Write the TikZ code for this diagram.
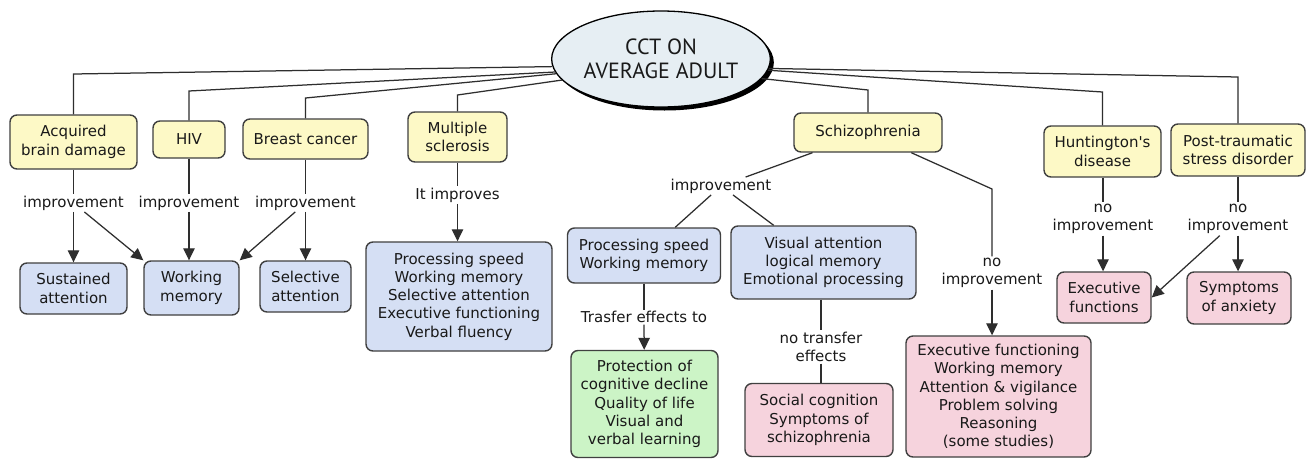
\documentclass[tikz,border=0pt]{standalone}
\usepackage{fontspec}
\usetikzlibrary{arrows.meta,shadows,calc,shapes.geometric}
\newfontfamily\mapsans{DejaVu Sans}
\newfontfamily\titlesans{PT Sans}
\newcommand\mapfont{\mapsans\fontsize{15pt}{18.3pt}\selectfont}
\newcommand\titlefont{\titlesans\fontsize{22pt}{24pt}\selectfont}
\definecolor{edgec}{HTML}{404040}
\definecolor{linec}{HTML}{2E2E2E}
\definecolor{yel}{HTML}{FDF9C6}
\definecolor{blu}{HTML}{D5DFF4}
\definecolor{grn}{HTML}{CCF4C6}
\definecolor{pnk}{HTML}{F6D3DD}
\definecolor{ellc}{HTML}{E6EEF3}
\tikzset{
  box/.style={draw=edgec, line width=1.4pt, rounded corners=7pt, align=center,
    inner sep=0pt, font=\mapfont, text=black!90},
  ybox/.style={box, fill=yel},
  bbox/.style={box, fill=blu},
  gbox/.style={box, fill=grn},
  pbox/.style={box, fill=pnk},
  lab/.style={font=\mapfont, inner sep=1.5pt, align=center, text=black!90},
  link/.style={draw=linec, line width=1.25pt},
  arr/.style={link, -{Triangle[length=12pt,width=11.5pt]}},
}
\begin{document}
\begin{tikzpicture}[x=1pt,y=-1pt]
\fill[white] (0,0) rectangle (1308,461);
\useasboundingbox (0,0) rectangle (1308,461);

% central concept
\node[ellipse, draw=black, line width=1.3pt, fill=ellc, minimum width=206pt,
  minimum height=96pt, inner sep=0pt, align=center, font=\titlefont, text=black!90,
  drop shadow={shadow xshift=3.5pt, shadow yshift=-3.5pt, fill=black, opacity=1}]
  (ell) at (661,59) {CCT ON\\AVERAGE ADULT};

% conditions
\node[ybox, minimum width=127pt, minimum height=54pt] (abd) at (73.5,142) {Acquired\\brain damage};
\node[ybox, minimum width=72pt, minimum height=37pt] (hiv) at (189,139.5) {HIV};
\node[ybox, minimum width=125pt, minimum height=40pt] (bc) at (305.5,139) {Breast cancer};
\node[ybox, minimum width=99pt, minimum height=50pt] (ms) at (457.5,137) {Multiple\\sclerosis};
\node[ybox, minimum width=148pt, minimum height=39pt] (sch) at (868,132.5) {Schizophrenia};
\node[ybox, minimum width=117pt, minimum height=51pt] (hd) at (1102.5,151.5) {Huntington's\\disease};
\node[ybox, minimum width=134pt, minimum height=52pt] (ptsd) at (1238,150) {Post-traumatic\\stress disorder};

% outcomes
\node[bbox, minimum width=107pt, minimum height=51pt] (sa) at (73.5,288.5) {Sustained\\attention};
\node[bbox, minimum width=95pt, minimum height=54pt] (wm) at (191.5,288) {Working\\memory};
\node[bbox, minimum width=91pt, minimum height=51pt] (sel) at (305.5,286.5) {Selective\\attention};
\node[bbox, minimum width=186pt, minimum height=109pt] (msout) at (459,296.5)
  {Processing speed\\Working memory\\Selective attention\\Executive functioning\\Verbal fluency};
\node[bbox, minimum width=153pt, minimum height=55pt] (pswm) at (644,255.5) {Processing speed\\Working memory};
\node[bbox, minimum width=185pt, minimum height=73pt] (va) at (823.5,262.5)
  {Visual attention\\logical memory\\Emotional processing};
\node[gbox, minimum width=147pt, minimum height=107pt] (prot) at (644.5,404)
  {Protection of\\cognitive decline\\Quality of life\\Visual and\\verbal learning};
\node[pbox, minimum width=148pt, minimum height=73pt] (soc) at (819,420)
  {Social cognition\\Symptoms of\\schizophrenia};
\node[pbox, minimum width=185pt, minimum height=121pt] (efb) at (998.5,396.5)
  {Executive functioning\\Working memory\\Attention \& vigilance\\Problem solving\\Reasoning\\(some studies)};
\node[pbox, minimum width=94pt, minimum height=51pt] (ef) at (1104,297.5) {Executive\\functions};
\node[pbox, minimum width=104pt, minimum height=52pt] (anx) at (1239,298) {Symptoms\\of anxiety};

% linking phrases
\node[lab] (l1) at (73.5,203) {improvement};
\node[lab] (l2) at (189,203) {improvement};
\node[lab] (l3) at (305.5,203) {improvement};
\node[lab] (l4) at (457.5,195) {It improves};
\node[lab] (l5) at (721,186) {improvement};
\node[lab] (l6) at (644,317) {Trasfer effects to};
\node[lab] (l7) at (821,347) {no transfer\\effects};
\node[lab] (l8) at (992,273) {no\\improvement};
\node[lab] (l9) at (1103,219) {no\\improvement};
\node[lab] (l10) at (1238,219) {no\\improvement};

% elbows of the links leaving the central concept
\coordinate (k1) at (73.5,74);
\coordinate (k2) at (189,91);
\coordinate (k3) at (305.5,98);
\coordinate (k4) at (457.5,95);
\coordinate (k5) at (868,90);
\coordinate (k6) at (1102.5,92);
\coordinate (k7) at (1238,77);
\coordinate (k8) at (992,189);

% central concept to conditions
\draw[link] (ell.184) -- (k1) -- (abd.north);
\draw[link] (ell.187) -- (k2) -- (hiv.north);
\draw[link] (ell.188.5) -- (k3) -- (bc.north);
\draw[link] (ell.192) -- (k4) -- (ms.north);
\draw[link] (ell.349) -- (k5) -- (sch.north);
\draw[link] (ell.354) -- (k6) -- (hd.north);
\draw[link] (ell.355.5) -- (k7) -- (ptsd.north);

% acquired brain damage, HIV, breast cancer
\draw[link] (abd) -- (l1);
\draw[arr] (l1) -- (sa);
\draw[arr] (l1) -- (wm.north west);
\draw[link] (hiv) -- (l2);
\draw[arr] (l2) -- (l2 |- wm.north);
\draw[link] (bc) -- (l3);
\draw[arr] (l3) -- (sel);
\draw[arr] (l3) -- (wm.north east);

% multiple sclerosis
\draw[link] (ms) -- (l4);
\draw[arr] (l4) -- (l4 |- msout.north);

% schizophrenia
\draw[link] (sch.200) -- (l5);
\draw[link] (l5) -- (pswm);
\draw[link] (l5) -- (va);
\draw[link] (pswm) -- (l6);
\draw[arr] (l6) -- (prot);
\draw[link] (l7 |- va.south) -- (l7);
\draw[link] (l7) -- (l7 |- soc.north);
\draw[link] (sch.335) -- (k8) -- (l8);
\draw[arr] (l8) -- (l8 |- efb.north);

% Huntington's disease, PTSD
\draw[link] (l9 |- hd.south) -- (l9);
\draw[arr] (l9) -- (l9 |- ef.north);
\draw[link] (ptsd) -- (l10);
\draw[arr] (l10) -- (anx.north -| l10);
\draw[arr] (l10) -- (ef.east);
\end{tikzpicture}
\end{document}
